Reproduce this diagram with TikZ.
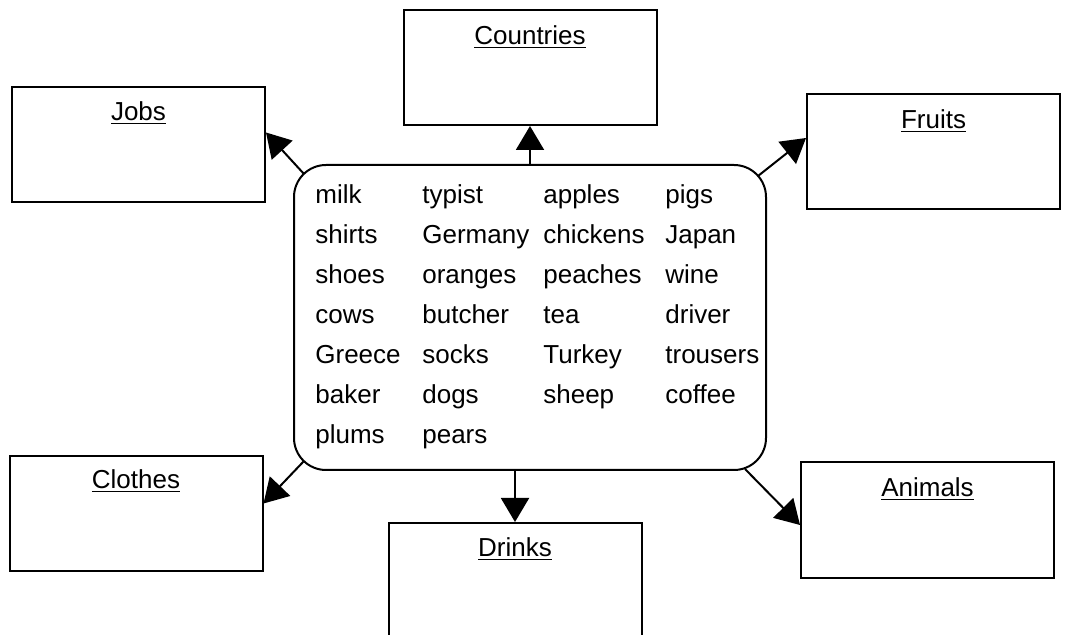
\documentclass[tikz,border=0pt]{standalone}
\usepackage{fontspec}
\setmainfont{Liberation Sans}
\usepackage{tikz}
\usetikzlibrary{arrows.meta,positioning}

\begin{document}
\begin{tikzpicture}[x=0.5pt,y=-0.5pt,
    catbox/.style={draw,line width=1pt,minimum width=126.5pt,minimum height=57.5pt,inner sep=0pt},
    cattitle/.style={inner sep=0pt,font=\fontsize{13}{15}\selectfont},
    pool/.style={draw,line width=1pt,rounded corners=16pt,minimum width=236pt,minimum height=152.5pt},
    sortarrow/.style={line width=1pt,-{Triangle[length=12pt,width=14pt]}}]
            \clip (0,0) rectangle (1065,635);

            % word pool in the middle
            \node[pool] (pool) at (530,317.5) {};
            \node[anchor=north west,inner sep=0pt,font=\fontsize{13}{20}\selectfont] (words) at (315,175) {%
                \begin{tabular}{@{}p{53.5pt}@{}p{60.5pt}@{}p{61pt}@{}l@{}}
                milk & typist & apples & pigs\\
                shirts & Germany & chickens & Japan\\
                shoes & oranges & peaches & wine\\
                cows & butcher & tea & driver\\
                Greece & socks & Turkey & trousers\\
                baker & dogs & sheep & coffee\\
                plums & pears & &
                \end{tabular}};

            % category boxes
            \node[catbox] (countries) at (530,67.5) {};
            \node[catbox] (jobs) at (138.5,144.5) {};
            \node[catbox] (fruits) at (933.5,152) {};
            \node[catbox] (clothes) at (136,513.5) {};
            \node[catbox] (drinks) at (515,580.5) {};
            \node[catbox] (animals) at (927.5,520) {};

            \node[cattitle,below=8pt of countries.north] (countries-title) {\underline{Countries}};
            \node[cattitle,below=7.5pt of jobs.north] (jobs-title) {\underline{Jobs}};
            \node[cattitle,below=8pt of fruits.north] (fruits-title) {\underline{Fruits}};
            \node[cattitle,below=7pt of clothes.north] (clothes-title) {\underline{Clothes}};
            \node[cattitle,below=7.5pt of drinks.north] (drinks-title) {\underline{Drinks}};
            \node[cattitle,below=8pt of animals.north] (animals-title) {\underline{Animals}};

            % arrows out of the pool
            \draw[sortarrow] (pool.north -| countries.south) -- (countries.south);
            \draw[sortarrow] ([shift={(11,10)}]pool.north west) -- ([shift={(0,-12)}]jobs.east);
            \draw[sortarrow] ([shift={(-9,12)}]pool.north east) -- ([shift={(0,-14)}]fruits.west);
            \draw[sortarrow] ([shift={(11,-10)}]pool.south west) -- ([shift={(0,-10)}]clothes.east);
            \draw[sortarrow] (pool.south -| drinks.north) -- (drinks.north);
            \draw[sortarrow] ([shift={(-22,-2)}]pool.south east) -- ([shift={(0,5)}]animals.west);
\end{tikzpicture}
\end{document}
